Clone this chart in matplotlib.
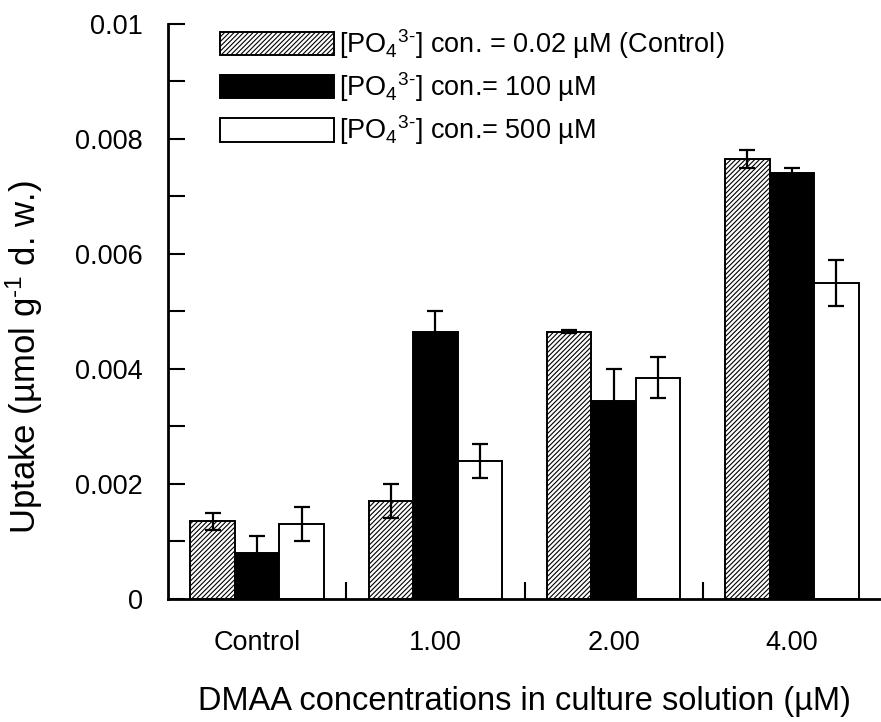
import matplotlib
matplotlib.use("Agg")
import matplotlib.pyplot as plt
import numpy as np

plt.rcParams["font.family"] = ["Liberation Sans", "DejaVu Sans"]
plt.rcParams["mathtext.fontset"] = "custom"
plt.rcParams["mathtext.rm"] = "Liberation Sans"
plt.rcParams["mathtext.it"] = "Liberation Sans:italic"
plt.rcParams["mathtext.bf"] = "Liberation Sans:bold"
plt.rcParams["mathtext.default"] = "regular"
plt.rcParams["hatch.linewidth"] = 0.8

groups = ["Control", "1.00", "2.00", "4.00"]
labels = ["[PO$_4$$^{3\u2010}$] con. = 0.02 µM (Control)",
          "[PO$_4$$^{3\u2010}$] con.= 100 µM",
          "[PO$_4$$^{3\u2010}$] con.= 500 µM"]
ctrl = [0.00135, 0.0017, 0.00465, 0.00765]
ctrl_err = [0.00015, 0.0003, 0.00003, 0.00015]
p100 = [0.0008, 0.00465, 0.00345, 0.0074]
p100_err = [0.0003, 0.00035, 0.00055, 0.0001]
p500 = [0.0013, 0.0024, 0.00385, 0.0055]
p500_err = [0.0003, 0.0003, 0.00035, 0.0004]

fig = plt.figure(figsize=(8.81, 7.22), dpi=100)
ax = fig.add_axes([0.1907, 0.1704, 0.8093, 0.7964])

x = np.arange(1, len(groups) + 1)
w = 0.25
series = [(ctrl, ctrl_err, "white", "///////"),
          (p100, p100_err, "black", None),
          (p500, p500_err, "white", None)]
for i, (vals, errs, fc, hatch) in enumerate(series):
    ax.bar(x + (i - 1) * w, vals, w, color=fc, edgecolor="black", linewidth=1.4,
           hatch=hatch, label=labels[i], zorder=2)
    ax.errorbar(x + (i - 1) * w, vals, yerr=errs, fmt="none", ecolor="black",
                elinewidth=1.6, capsize=5.5, capthick=1.6, zorder=3)

ax.set_xlim(0.5, 4.5)
ax.set_ylim(0, 0.01)
ax.set_yticks([0, 0.002, 0.004, 0.006, 0.008, 0.01])
ax.set_yticklabels(["0", "0.002", "0.004", "0.006", "0.008", "0.01"])
ax.set_yticks(np.arange(0.001, 0.01, 0.002), minor=True)
ax.set_xticks(x)
ax.set_xticklabels(groups)
ax.set_xticks([1.5, 2.5, 3.5], minor=True)
ax.tick_params(axis="x", which="major", length=0, pad=22, labelsize=19.5)
ax.tick_params(axis="x", which="minor", direction="in", length=12, width=1.5)
ax.tick_params(axis="y", which="both", direction="in", length=12, width=1.5,
               pad=18, labelsize=19.5)
for s in ["top", "right"]:
    ax.spines[s].set_visible(False)
for s in ["left", "bottom"]:
    ax.spines[s].set_linewidth(2)

ax.set_ylabel("Uptake (µmol g$^{\u20101}$ d. w.)", fontsize=25)
ax.yaxis.set_label_coords(-0.172, 0.42)
ax.set_xlabel("DMAA concentrations in culture solution (µM)", fontsize=23.5, labelpad=22)

ax.legend(loc="upper left", bbox_to_anchor=(0.073, 0.995), frameon=False,
          fontsize=19.5, borderpad=0, borderaxespad=0, handlelength=4.2,
          handleheight=0.95, labelspacing=0.35, handletextpad=0.2)

fig.savefig("out.png", dpi=100)
